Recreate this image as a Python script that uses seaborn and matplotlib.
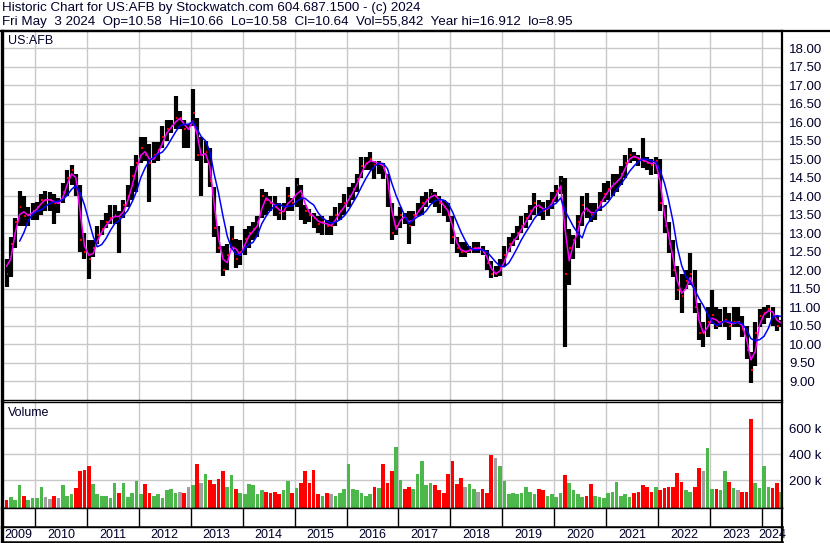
import numpy as np
import pandas as pd
import matplotlib
matplotlib.use("Agg")
import matplotlib.pyplot as plt
from matplotlib.lines import Line2D
import seaborn as sns

# monthly values, May 2009 .. May 2024
closes = [
    12.3, 11.9, 12.7, 13.3, 13.7, 13.45, 13.5, 13.6,                      # 2009
    13.7, 13.9, 13.9, 13.9, 13.8, 13.8, 14.1, 14.5, 14.7, 14.3, 12.8, 12.5,  # 2010
    12.3, 12.6, 12.95, 13.1, 13.3, 13.4, 13.5, 13.4, 13.75, 14.0, 14.55, 14.9,
    15.3, 15.1, 14.9, 15.1, 15.25, 15.6, 15.8, 15.9, 16.1, 16.1, 15.8, 15.8,
    16.25, 15.1, 15.1, 15.2, 14.4, 13.15, 12.6, 12.0, 12.4, 12.85, 12.3, 12.5,
    12.85, 13.0, 13.1, 13.3, 14.0, 13.9, 13.8, 13.7, 13.55, 13.6, 14.0, 13.8,
    14.3, 14.0, 13.6, 13.5, 13.4, 13.25, 13.3, 13.2, 13.2, 13.5, 13.6, 13.8,
    14.0, 14.2, 14.45, 14.8, 14.9, 15.0, 14.85, 14.9, 14.75, 14.2, 13.0, 13.2,
    13.5, 13.4, 13.2, 13.5, 13.6, 13.8, 13.9, 14.05, 14.0, 13.8, 13.7, 13.5,
    12.9, 12.6, 12.5, 12.5, 12.55, 12.6, 12.6, 12.5, 12.2, 11.9, 11.9, 12.05,
    12.4, 12.7, 12.8, 13.0, 13.2, 13.4, 13.6, 13.8, 13.7, 13.6, 13.7, 13.9,
    14.15, 14.4, 11.9, 12.6, 12.8, 13.3, 13.75, 13.6, 13.5, 13.6, 13.85, 14.05,
    14.2, 14.35, 14.4, 14.6, 14.9, 15.1, 15.05, 15.0, 14.95, 14.9, 14.85, 14.95,
    13.8, 13.2, 12.7, 12.0, 11.45, 11.3, 11.7, 11.9, 11.0, 10.3, 10.3, 10.6,
    10.8, 10.5, 10.6, 10.65, 10.5, 10.6, 10.6, 10.4, 9.85, 9.3, 10.3, 10.75,
    10.85, 10.95, 10.8, 10.5, 10.64,                                       # 2024
]
highs = [
    12.9, 12.3, 12.9, 13.4, 14.15, 14.0, 13.7, 13.8,
    13.85, 14.05, 14.15, 14.1, 14.05, 13.95, 14.35, 14.7, 14.85, 14.6, 14.3, 13.0,
    12.8, 12.8, 13.2, 13.35, 13.55, 13.75, 13.75, 13.6, 13.9, 14.3, 14.8, 15.1,
    15.6, 15.6, 15.4, 15.45, 15.45, 15.9, 16.05, 16.05, 16.7, 16.3, 16.05, 15.95,
    16.9, 16.1, 15.6, 15.5, 15.3, 14.25, 13.2, 12.65, 12.7, 13.2, 12.85, 12.8,
    13.1, 13.2, 13.3, 13.45, 14.2, 14.1, 14.0, 14.0, 13.8, 13.8, 14.25, 13.95,
    14.5, 14.3, 13.75, 13.65, 13.55, 13.45, 13.45, 13.35, 13.45, 13.7, 13.8, 14.05,
    14.25, 14.35, 14.6, 15.05, 15.05, 15.2, 14.95, 14.95, 14.9, 14.6, 13.8, 13.45,
    13.7, 13.55, 13.6, 13.6, 13.8, 14.0, 14.1, 14.2, 14.1, 14.0, 13.9, 13.8,
    13.45, 12.9, 12.75, 12.75, 12.65, 12.75, 12.75, 12.65, 12.55, 12.25, 12.1, 12.3,
    12.65, 12.9, 13.0, 13.2, 13.45, 13.55, 13.75, 14.07, 13.9, 13.85, 13.9, 14.1,
    14.3, 14.55, 14.5, 13.1, 12.95, 13.5, 14.0, 14.07, 13.8, 13.8, 14.1, 14.35,
    14.4, 14.6, 14.6, 14.8, 15.1, 15.3, 15.2, 15.1, 15.56, 15.05, 15.0, 15.05,
    15.0, 13.75, 13.3, 12.8, 12.1, 11.9, 12.0, 12.45, 12.0, 11.1, 10.6, 11.0,
    11.46, 11.0, 10.95, 11.0, 10.85, 11.0, 11.0, 10.75, 10.5, 9.8, 10.6, 10.95,
    11.0, 11.05, 11.0, 10.75, 10.66,
]
lows = [
    12.0, 11.55, 11.8, 12.6, 13.2, 13.2, 13.2, 13.35,
    13.35, 13.5, 13.6, 13.6, 13.25, 13.55, 13.8, 14.0, 14.3, 14.0, 12.5, 12.3,
    11.75, 12.35, 12.7, 12.95, 13.15, 13.25, 13.25, 12.45, 13.4, 13.7, 13.9, 14.1,
    14.9, 14.95, 13.85, 14.9, 14.95, 15.3, 15.5, 15.7, 15.8, 15.8, 15.3, 15.3,
    15.9, 14.95, 14.0, 14.9, 14.25, 12.9, 12.45, 11.85, 12.0, 12.6, 12.05, 12.15,
    12.4, 12.6, 12.8, 12.9, 13.4, 13.5, 13.6, 13.45, 13.35, 13.35, 13.6, 13.6,
    13.7, 13.35, 13.25, 13.3, 13.15, 13.0, 12.95, 12.95, 12.95, 13.2, 13.35, 13.5,
    13.7, 13.9, 14.1, 14.5, 14.7, 14.7, 14.45, 14.6, 14.45, 13.7, 12.8, 12.95,
    13.15, 13.25, 12.7, 13.2, 13.45, 13.5, 13.7, 13.8, 13.7, 13.55, 13.45, 13.3,
    12.7, 12.45, 12.35, 12.35, 12.45, 12.45, 12.45, 12.4, 12.0, 11.78, 11.8, 11.85,
    12.1, 12.5, 12.65, 12.8, 13.0, 13.15, 13.35, 13.5, 13.45, 13.35, 13.45, 13.65,
    13.85, 14.05, 9.93, 11.6, 12.3, 12.6, 13.2, 13.4, 13.3, 13.35, 13.6, 13.85,
    13.9, 14.0, 14.1, 14.3, 14.5, 14.9, 14.95, 14.8, 14.75, 14.7, 14.58, 14.6,
    13.6, 13.0, 12.45, 11.8, 11.2, 10.83, 11.5, 11.6, 10.85, 10.1, 9.93, 10.2,
    10.55, 10.4, 10.45, 10.45, 10.1, 10.45, 10.45, 10.2, 9.6, 8.95, 9.4, 10.45,
    10.55, 10.7, 10.5, 10.35, 10.45,
]
volumes_k = [
    60, 45, 70, 50, 165, 80, 50, 60,
    60, 150, 70, 55, 80, 60, 165, 75, 90, 140, 270, 275,
    310, 170, 90, 75, 80, 60, 180, 100, 175, 70, 100, 195,
    90, 170, 100, 80, 90, 60, 120, 130, 100, 110, 100, 150,
    160, 325, 180, 250, 200, 170, 210, 270, 150, 240, 130, 100,
    90, 170, 160, 90, 120, 110, 100, 110, 90, 120, 195, 100,
    140, 180, 270, 180, 275, 90, 80, 100, 90, 80, 100, 130,
    320, 130, 120, 100, 80, 90, 150, 140, 320, 180, 270, 455,
    200, 130, 150, 130, 250, 345, 160, 180, 160, 120, 100, 250,
    350, 170, 215, 150, 170, 130, 110, 130, 100, 395, 370, 305,
    195, 90, 100, 90, 100, 150, 110, 90, 130, 120, 80, 90,
    70, 100, 235, 180, 120, 90, 70, 80, 170, 80, 70, 60,
    100, 110, 185, 80, 90, 70, 100, 110, 160, 150, 110, 150,
    120, 140, 150, 150, 255, 185, 120, 110, 150, 290, 270, 450,
    130, 130, 120, 270, 185, 140, 120, 110, 110, 670, 180, 140,
    305, 150, 140, 180, 110,
]

years = list(range(2009, 2025))
price_ticks = np.arange(9.0, 18.01, 0.5)
volume_ticks = [200000, 400000, 600000]

title_line1 = "Historic Chart for US:AFB by Stockwatch.com 604.687.1500 - (c) 2024"
title_line2 = ("Fri May  3 2024  Op=10.58  Hi=10.66  Lo=10.58  Cl=10.64  "
               "Vol=55,842  Year hi=16.912  lo=8.95")
symbol = "US:AFB"

TEXT = "#00002a"
GRID = "#c8c8c8"
W, H = 830, 543
X0, X1 = 2009.365, 2024.385


def box(x0, y0, x1, y1):
    # pixel box (top-left origin) -> figure fraction rect
    return [x0 / W, 1 - y1 / H, (x1 - x0) / W, (y1 - y0) / H]


months = pd.date_range("2009-05-01", periods=len(closes), freq="MS") + pd.Timedelta(days=14)
df = pd.DataFrame({
    "x": months.year + (months.dayofyear - 1) / 365.25,
    "high": highs, "low": lows, "close": closes,
    "volume": np.array(volumes_k) * 1000.0,
})
df["fast"] = df["close"].rolling(2).mean()
df["slow"] = df["close"].rolling(5).mean()
diff = df["close"].diff().fillna(1)
vol_colors = np.where(diff > 0, "#4cb84c", np.where(diff < 0, "#ff0000", "#a0a0a0"))

sns.set_theme(style="white")
plt.rcParams["font.family"] = ["Liberation Sans", "DejaVu Sans"]

fig = plt.figure(figsize=(W / 100, H / 100), dpi=100)
ax_p = fig.add_axes(box(2, 31, 782, 400))
ax_v = fig.add_axes(box(2, 402, 782, 508))
ax_d = fig.add_axes(box(2, 508, 782, 527))
ax_l = fig.add_axes(box(2, 527, 782, 542))

for ax in (ax_p, ax_v, ax_d, ax_l):
    ax.set_xlim(X0, X1)
    ax.set_facecolor("white")
    for side, lw in (("left", 2.4), ("right", 1.6), ("top", 1.0), ("bottom", 1.0)):
        ax.spines[side].set_visible(True)
        ax.spines[side].set_color("black")
        ax.spines[side].set_linewidth(lw)

# --- price panel ---
ax_p.set_xticks(years[1:])
ax_p.set_yticks(price_ticks)
ax_p.grid(True, color=GRID, lw=1.0)
ax_p.set_axisbelow(True)
ax_p.vlines(df["x"], df["low"], df["high"], color="black", lw=3.0)
ax_p.hlines(df["close"], df["x"], df["x"] + 0.035, color="red", lw=1.5)
sns.lineplot(data=df, x="x", y="fast", ax=ax_p, color="#ff00ff", lw=1.1)
sns.lineplot(data=df, x="x", y="slow", ax=ax_p, color="#0000ff", lw=1.1)
ax_p.set_ylim(8.49, 18.46)
ax_p.set_xlim(X0, X1)
ax_p.set_xlabel("")
ax_p.set_ylabel("")
ax_p.yaxis.tick_right()
ax_p.set_yticklabels([f"{v:.2f}" for v in price_ticks])
ax_p.tick_params(axis="y", length=0, pad=5, labelsize=9.5, labelcolor=TEXT)
ax_p.tick_params(axis="x", length=0, labelbottom=False)
ax_p.spines["top"].set_linewidth(1.6)
ax_p.text(8 / W, 1 - 41 / H, symbol, transform=fig.transFigure, fontsize=9,
          color=TEXT, va="center", ha="left")

# --- volume panel ---
ax_v.set_xticks(years[1:])
ax_v.set_yticks(volume_ticks)
ax_v.grid(True, color=GRID, lw=1.0)
ax_v.set_axisbelow(True)
ax_v.bar(df["x"], df["volume"] + 15000, bottom=-15000, width=0.07,
         color=vol_colors, linewidth=0)
ax_v.set_ylim(-15000, 800000)
ax_v.yaxis.tick_right()
ax_v.set_yticklabels([f"{int(v / 1000)} k" for v in volume_ticks])
ax_v.tick_params(axis="y", length=0, pad=5, labelsize=9.5, labelcolor=TEXT)
ax_v.tick_params(axis="x", length=0, labelbottom=False)
ax_v.text(8 / W, 1 - 413 / H, "Volume", transform=fig.transFigure, fontsize=9,
          color=TEXT, va="center", ha="left")

# --- date band and year labels ---
ax_d.set_ylim(0, 1)
ax_d.vlines(years[1:], 0, 1, color="black", lw=1.0)
ax_d.set_xticks([])
ax_d.set_yticks([])
ax_d.spines["bottom"].set_linewidth(1.8)

ax_l.set_ylim(0, 1)
ax_l.set_xticks([])
ax_l.set_yticks([])
ax_l.spines["bottom"].set_linewidth(1.8)
for yr in years:
    lo, hi = max(yr, X0), min(yr + 1, X1)
    ax_l.text((lo + hi) / 2, 0.45, str(yr), ha="center", va="center",
              fontsize=9, color=TEXT, clip_on=False)

# header
fig.add_artist(Line2D([0, 1], [1 - 31 / H, 1 - 31 / H], color="black", lw=1.6))
fig.text(2 / W, 1 - 8 / H, title_line1, fontsize=9.6, color=TEXT, va="center", ha="left")
fig.text(2 / W, 1 - 22 / H, title_line2, fontsize=9.6, color=TEXT, va="center", ha="left")

fig.savefig("out.png", dpi=100)
plt.close(fig)
